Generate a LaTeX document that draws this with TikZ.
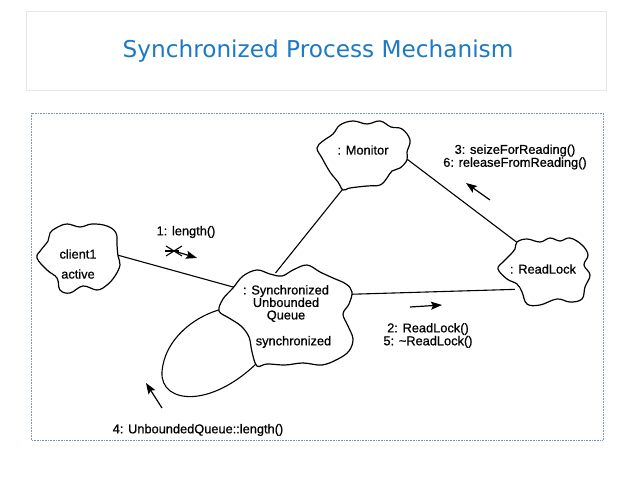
\documentclass[tikz,border=0pt]{standalone}
\usepackage{fontspec}
\setmainfont{Liberation Sans}[FakeBold=0.7]
\newfontfamily\titlefont{DejaVu Sans}
\usetikzlibrary{arrows.meta,shapes.geometric}
\definecolor{titleblue}{RGB}{27,121,197}
\definecolor{boxgray}{RGB}{228,231,236}
\definecolor{dotblue}{RGB}{125,150,190}
\begin{document}
\begin{tikzpicture}[x=1pt,y=-1pt,
  hole/.style={ellipse, draw=none, inner sep=0pt},
  cloudline/.style={draw=black, line width=1.2pt, fill=white, line join=round},
  conn/.style={draw=black, line width=1.1pt, shorten <=-9pt, shorten >=-9pt},
  msg/.style={draw=black, line width=1.2pt, -{Stealth[length=11pt,width=8pt,inset=2pt]}},
  lbl/.style={font=\fontsize{12.8}{11}\selectfont, inner sep=0pt, align=center},
  qlbl/.style={font=\fontsize{12.8}{12.5}\selectfont, inner sep=0pt, align=center},
]
\useasboundingbox (0,0) rectangle (638,478);
% frames
\draw[boxgray, line width=0.8pt] (26,11) rectangle (606,90);
\node[font=\titlefont\fontsize{23.2}{27}\selectfont, text=titleblue, inner sep=0pt] (title) at (318,51) {Synchronized Process Mechanism};
\draw[dotblue, densely dotted, line width=0.6pt] (31,113) rectangle (603,440);

% invisible nodes for the objects
\node[hole, minimum width=84pt, minimum height=68pt] (cl) at (78,258) {};
\node[hole, minimum width=93pt, minimum height=68pt] (mon) at (363,155) {};
\node[hole, minimum width=92pt, minimum height=66pt] (rl) at (544,271) {};
\node[hole, minimum width=135pt, minimum height=99pt] (q) at (285.5,315.5) {};

% links
\draw[conn] (cl.3) -- (q.152);
\draw[conn] (mon.240) -- (q.95);
\draw[conn] (mon.-7) -- (rl.133);
\draw[conn] (q.19) -- (rl.206);
\draw[conn] (q.175) .. controls (195,314) and (164,340) .. (162,372)
  .. controls (160,405) and (215,410) .. (q.240);

% clouds
\draw[cloudline] plot[smooth cycle, tension=0.65] coordinates {
 (50,233) (56,228) (67,224) (80,227) (92,224) (107,226) (116,233) (117,245)
 (118,256) (120,265) (115,276) (107,285) (97,290) (83,286) (70,293) (60,290)
 (57,278) (47,270) (37,258) (41,250) (48,241)};
\draw[cloudline] plot[smooth cycle, tension=0.65] coordinates {
 (340,125) (353,121) (367,124) (380,121) (391,127) (402,129) (410,140) (407,152)
 (407,160) (400,168) (392,171) (387,178) (380,185) (367,186) (350,188) (343,190)
 (338,182) (330,172) (322,158) (317,148) (323,141) (333,134)};
\draw[cloudline] plot[smooth cycle, tension=0.65] coordinates {
 (517,242) (527,239) (540,242) (550,238) (560,241) (570,238) (582,245) (588,255)
 (584,265) (590,275) (585,287) (582,299) (570,302) (557,299) (540,305) (527,304)
 (522,292) (517,284) (507,279) (498,269) (503,262) (510,255) (515,249)};
\draw[cloudline] plot[smooth cycle, tension=0.6] coordinates {
 (233,288) (243,276) (257,270) (270,274) (282,276) (293,270) (307,265) (320,272)
 (333,278) (346,284) (352,292) (349,304) (343,314) (348,326) (353,339) (349,351)
 (338,359) (322,365) (303,363) (285,365) (267,364) (257,366) (252,352) (249,337)
 (241,326) (229,318) (219,311) (223,299)};

% texts in clouds
\node[lbl] (tcl1) at (78,254) {client1};
\node[lbl] (tcl2) at (78,274) {active};
\node[lbl] (tmon) at (363,150) {: Monitor};
\node[lbl] (trl) at (543,269) {: ReadLock};
\node[qlbl] (tq) at (286,303.5) {: Synchronized\\Unbounded\\Queue};
\node[lbl] (tqs) at (293.5,342) {synchronized};

% message labels
\node[lbl] (m1) at (186,232) {1: length()};
\node[lbl] (m36) at (515,157) {3: seizeForReading()\\6: releaseFromReading()};
\node[lbl] (m25) at (428,335.5) {2: ReadLock()\\5: \textasciitilde ReadLock()};
\node[lbl] (m4) at (198,430) {4: UnboundedQueue::length()};

% message arrows
\coordinate (star) at (174,251);
\coordinate (a1e) at (197,258);
\draw[line width=1.1pt] (star) ++(-8,-5) -- ++(16,10);
\draw[line width=1.1pt] (star) ++(-8,5) -- ++(16,-10);
\draw[line width=1.1pt] (star) ++(-9,0) -- ++(14,0);
\draw[msg] (star) -- (a1e);
\coordinate (a2s) at (410,307);
\coordinate (a2e) at (442,305);
\draw[msg] (a2s) -- (a2e);
\coordinate (a3s) at (490,200);
\coordinate (a3e) at (466,183);
\draw[msg] (a3s) -- (a3e);
\coordinate (a4s) at (162,408);
\coordinate (a4e) at (146,383);
\draw[msg] (a4s) -- (a4e);
\end{tikzpicture}
\end{document}
